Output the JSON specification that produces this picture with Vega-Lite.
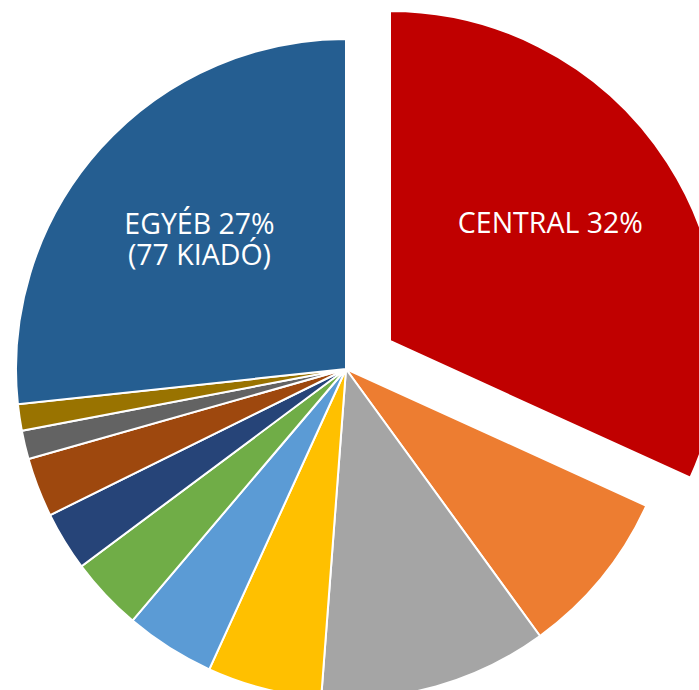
{
  "$schema": "https://vega.github.io/schema/vega-lite/v6.json",
  "width": 692,
  "height": 738,
  "autosize": {"type": "none"},
  "padding": {"left": 0, "top": 0, "right": 7, "bottom": 0},
  "background": "white",
  "config": {"view": {"stroke": null}},
  "data": {
    "values": [
      {"idx": 1, "name": "CENTRAL", "value": 31.8, "label": "CENTRAL 32%"},
      {"idx": 2, "name": "Kiadó 2", "value": 8.2, "label": ""},
      {"idx": 3, "name": "Kiadó 3", "value": 11.2, "label": ""},
      {"idx": 4, "name": "Kiadó 4", "value": 5.6, "label": ""},
      {"idx": 5, "name": "Kiadó 5", "value": 4.4, "label": ""},
      {"idx": 6, "name": "Kiadó 6", "value": 3.6, "label": ""},
      {"idx": 7, "name": "Kiadó 7", "value": 2.9, "label": ""},
      {"idx": 8, "name": "Kiadó 8", "value": 2.9, "label": ""},
      {"idx": 9, "name": "Kiadó 9", "value": 1.4, "label": ""},
      {"idx": 10, "name": "Kiadó 10", "value": 1.3, "label": ""},
      {"idx": 11, "name": "EGYÉB", "value": 26.7, "label": "EGYÉB 27%\n(77 KIADÓ)"}
    ]
  },
  "encoding": {
    "theta": {"field": "value", "type": "quantitative", "stack": true},
    "order": {"field": "idx", "type": "quantitative"},
    "color": {
      "field": "name",
      "type": "nominal",
      "legend": null,
      "scale": {
        "domain": ["CENTRAL", "Kiadó 2", "Kiadó 3", "Kiadó 4", "Kiadó 5", "Kiadó 6", "Kiadó 7", "Kiadó 8", "Kiadó 9", "Kiadó 10", "EGYÉB"],
        "range": ["#C00000", "#ED7D31", "#A5A5A5", "#FFC000", "#5B9BD5", "#70AD47", "#264478", "#9E480E", "#636363", "#997300", "#255E91"]
      }
    }
  },
  "layer": [
    {
      "mark": {"type": "arc", "radius": 330, "stroke": "white", "strokeWidth": 2},
      "encoding": {
        "opacity": {"condition": {"test": "datum.name === 'CENTRAL'", "value": 0}, "value": 1}
      }
    },
    {
      "mark": {"type": "arc", "radius": 330, "stroke": "white", "strokeWidth": 2, "xOffset": 44, "yOffset": -28},
      "encoding": {
        "opacity": {"condition": {"test": "datum.name === 'CENTRAL'", "value": 1}, "value": 0}
      }
    },
    {
      "mark": {"type": "text", "radius": 197, "fill": "white", "font": "Open Sans", "fontSize": 28.5, "lineBreak": "\n", "lineHeight": 31, "baseline": "middle", "align": "center", "yOffset": -12},
      "encoding": {
        "color": {"value": "white"},
        "text": {"condition": {"test": "datum.name === 'EGYÉB'", "field": "label"}, "value": ""}
      }
    },
    {
      "mark": {"type": "text", "radius": 199, "fill": "white", "font": "Open Sans", "fontSize": 28.5, "baseline": "middle", "align": "center", "xOffset": 37, "yOffset": -37},
      "encoding": {
        "color": {"value": "white"},
        "text": {"condition": {"test": "datum.name === 'CENTRAL'", "field": "label"}, "value": ""}
      }
    }
  ]
}
